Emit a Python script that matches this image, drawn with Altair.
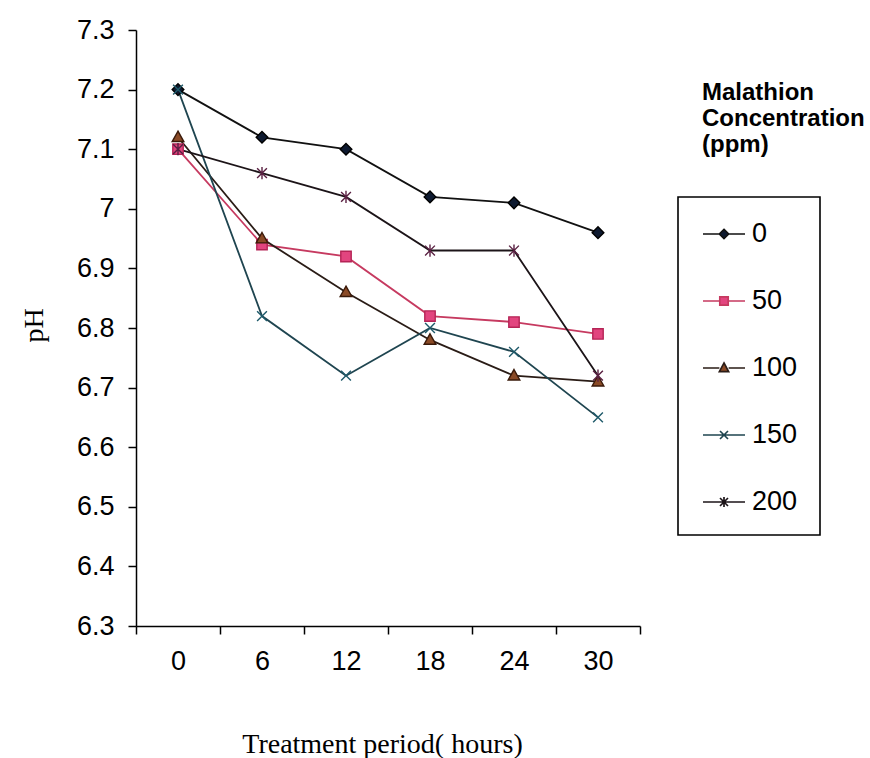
import altair as alt
import pandas as pd

# ---- data ----
hours = ["0", "6", "12", "18", "24", "30"]
series = ["0", "50", "100", "150", "200"]
ph_0 = [7.20, 7.12, 7.10, 7.02, 7.01, 6.96]
ph_50 = [7.10, 6.94, 6.92, 6.82, 6.81, 6.79]
ph_100 = [7.12, 6.95, 6.86, 6.78, 6.72, 6.71]
ph_150 = [7.20, 6.82, 6.72, 6.80, 6.76, 6.65]
ph_200 = [7.10, 7.06, 7.02, 6.93, 6.93, 6.72]
y_ticks = [6.3, 6.4, 6.5, 6.6, 6.7, 6.8, 6.9, 7.0, 7.1, 7.2, 7.3]
legend_title_lines = ["Malathion", "Concentration", "(ppm)"]

# ---- styles ----
line_colors = ["#111111", "#c63a60", "#2a1c16", "#1f4550", "#1c1418"]
marker_fill = ["#0e1a30", "#e2457f", "#8a4a26", "#1f5a6a", "#5a2042"]
marker_stroke = ["#000000", "#b52456", "#3a1a0a", "#1f5a6a", "#5a2042"]
marker_paths = [
    "M0,-0.95L0.95,0L0,0.95L-0.95,0Z",
    "M-0.85,-0.85H0.85V0.85H-0.85Z",
    "M0,-1L0.95,0.7H-0.95Z",
    "M-0.8,-0.8L0.8,0.8M-0.8,0.8L0.8,-0.8",
    "M-0.8,-0.8L0.8,0.8M-0.8,0.8L0.8,-0.8M0,-1V1",
]
legend_paths = [
    "M-1,0H-0.22M0.22,0H1M0,-0.22L0.22,0L0,0.22L-0.22,0Z",
    "M-1,0H-0.2M0.2,0H1M-0.2,-0.2H0.2V0.2H-0.2Z",
    "M-1,0H-0.22M0.22,0H1M0,-0.24L0.22,0.17H-0.22Z",
    "M-1,0H1M-0.19,-0.19L0.19,0.19M-0.19,0.19L0.19,-0.19",
    "M-1,0H1M-0.19,-0.19L0.19,0.19M-0.19,0.19L0.19,-0.19M0,-0.24V0.24",
]

values = [ph_0, ph_50, ph_100, ph_150, ph_200]
rows = []
for s, vals in zip(series, values):
    for h, v in zip(hours, vals):
        rows.append({"hours": h, "conc": s, "pH": v})
df = pd.DataFrame(rows)

W, H = 504, 596
FONT = "Liberation Sans"
SERIF = "Liberation Serif"

x_enc = alt.X(
    "hours:O",
    sort=hours,
    scale=alt.Scale(type="band", domain=hours, paddingInner=0, paddingOuter=0),
    axis=alt.Axis(
        title="Treatment period( hours)",
        labelAngle=0,
        tickBand="extent",
        tickSize=8,
        labelPadding=14,
        labelFont=FONT,
        labelFontSize=27,
        labelColor="black",
        titleFont=SERIF,
        titleFontSize=28,
        titleFontWeight="normal",
        titleColor="black",
        titleX=246,
        titleY=126,
        titleBaseline="alphabetic",
        titleAlign="center",
        domainColor="black",
        domainWidth=1.5,
        tickColor="black",
        tickWidth=1.5,
    ),
)
y_enc = alt.Y(
    "pH:Q",
    scale=alt.Scale(domain=[6.3, 7.3], nice=False, zero=False),
    axis=alt.Axis(
        title="pH",
        values=y_ticks,
        format=".1~f",
        tickSize=8,
        labelPadding=14,
        labelFont=FONT,
        labelFontSize=27,
        labelColor="black",
        titleFont=SERIF,
        titleFontSize=28,
        titleFontWeight="normal",
        titleColor="black",
        titleX=-102,
        titleY=295,
        titleAlign="center",
        titleBaseline="middle",
        domainColor="black",
        domainWidth=1.5,
        tickColor="black",
        tickWidth=1.5,
        grid=False,
    ),
)

base = alt.Chart(df)

lines = base.mark_line(strokeWidth=1.8).encode(
    x=x_enc,
    y=y_enc,
    color=alt.Color("conc:N", scale=alt.Scale(domain=series, range=line_colors), legend=None),
)

points = base.mark_point(size=150, opacity=1, strokeWidth=1.4).encode(
    x=x_enc,
    y=y_enc,
    shape=alt.Shape("conc:N", scale=alt.Scale(domain=series, range=marker_paths), legend=None),
    fill=alt.Fill("conc:N", scale=alt.Scale(domain=series, range=marker_fill), legend=None),
    stroke=alt.Stroke("conc:N", scale=alt.Scale(domain=series, range=marker_stroke), legend=None),
)

leg = alt.Legend(
    title=None,
    orient="none",
    legendX=566,
    legendY=182,
    padding=0,
    symbolSize=1764,
    symbolStrokeWidth=1.7,
    symbolOpacity=1,
    labelFont=FONT,
    labelFontSize=27,
    labelColor="black",
    labelOffset=6,
    rowPadding=32,
)

legend_layer = (
    alt.Chart(df)
    .transform_filter("false")
    .mark_point(size=1764, opacity=1, strokeWidth=1.7)
    .encode(
        shape=alt.Shape("conc:N", scale=alt.Scale(domain=series, range=legend_paths), legend=leg),
        color=alt.Color("conc:N", scale=alt.Scale(domain=series, range=line_colors), legend=leg),
        fill=alt.Fill("conc:N", scale=alt.Scale(domain=series, range=marker_fill), legend=leg),
    )
)

one = pd.DataFrame({"k": [0]})
box = alt.Chart(one).mark_rect(filled=False, stroke="black", strokeWidth=1.6).encode(
    x=alt.value(542), x2=alt.value(684), y=alt.value(167), y2=alt.value(505)
)
title_text = alt.Chart(one).mark_text(
    text=legend_title_lines,
    font=FONT,
    fontSize=24,
    fontWeight="bold",
    align="left",
    baseline="alphabetic",
    lineHeight=26,
    color="black",
).encode(x=alt.value(566), y=alt.value(70))

chart = (
    alt.layer(lines, points, legend_layer, box, title_text)
    .resolve_scale(color="independent", shape="independent", fill="independent", stroke="independent")
    .properties(
        width=W,
        height=H,
        autosize=alt.AutoSizeParams(type="none"),
        padding={"left": 136, "top": 30, "right": 230, "bottom": 132},
        background="white",
    )
    .configure_view(stroke=None)
)

chart.save("out.html", embed_options={"renderer": "svg", "actions": False})
